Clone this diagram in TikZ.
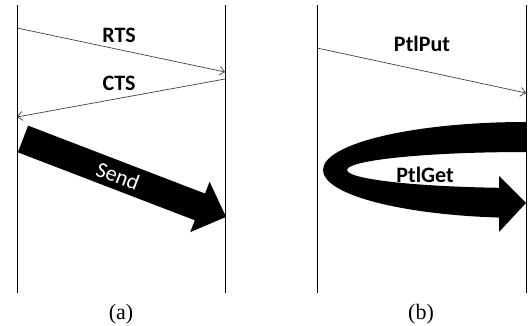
\documentclass[tikz,border=0pt]{standalone}
\usepackage{fontspec}
\setmainfont{Liberation Serif}
\newfontfamily\labelfont{Carlito}
\usetikzlibrary{arrows.meta}

\begin{document}
\begin{tikzpicture}[x=1pt,y=-1pt,
  timeline/.style={line width=0.9pt, draw=black},
  msg/.style={line width=0.7pt, draw=black!75, -{Straight Barb[length=5pt,width=9pt]}},
  msglabel/.style={inner sep=0pt, font=\labelfont\bfseries\fontsize{22}{26}\selectfont},
  sendlabel/.style={inner sep=0pt, text=white, font=\labelfont\fontsize{22}{26}\selectfont},
  caption/.style={inner sep=0pt, font=\fontsize{22}{26}\selectfont},
  bulk/.style={fill=black, draw=none},
]
\useasboundingbox (0,0) rectangle (528,326);

% ---------- (a) rendezvous: RTS / CTS / Send ----------
\coordinate (aLtop) at (17,5);   \coordinate (aLbot) at (17,293);
\coordinate (aRtop) at (225,5);  \coordinate (aRbot) at (225,293);
\coordinate (rtsS) at (17,28);   \coordinate (rtsE) at (225,72);
\coordinate (ctsS) at (225,79);  \coordinate (ctsE) at (17,117);

\draw[msg] (rtsS) -- (rtsE);
\draw[msg] (ctsS) -- (ctsE);

% bulk data transfer as a block arrow
\begin{scope}[shift={(23,139)}, rotate=-21]
  \fill[bulk] (0,-14.3) -- (189.5,-14.3) -- (189.5,-27) -- (217.5,0)
    -- (189.5,27) -- (189.5,14.3) -- (0,14.3) -- cycle;
\end{scope}

\draw[timeline] (aLtop) -- (aLbot);
\draw[timeline] (aRtop) -- (aRbot);

\node[msglabel] (rts) at (119,35) {RTS};
\node[msglabel] (cts) at (119,83) {CTS};
\node[sendlabel, rotate=-21] (send) at (118,176) {Send};
\node[caption] (capa) at (121,314) {(a)};

% ---------- (b) one-sided: PtlPut / PtlGet ----------
\coordinate (bLtop) at (317,5);  \coordinate (bLbot) at (317,293);
\coordinate (bRtop) at (526,5);  \coordinate (bRbot) at (526,293);
\coordinate (putS) at (317,48);  \coordinate (putE) at (526,93);

\draw[msg] (putS) -- (putE);

% looping get arrow: band between two half ellipses, then the head
\fill[bulk] (526,122)
    arc[start angle=270, end angle=97.6, x radius=203, y radius=48]
    -- (499,232) -- (526,203) -- (499,176) -- (499,187.8)
    arc[start angle=98.7, end angle=270, x radius=179, y radius=18]
    -- cycle;

\draw[timeline] (bLtop) -- (bLbot);
\draw[timeline] (bRtop) -- (bRbot);

\node[msglabel] (put) at (422,44) {PtlPut};
\node[msglabel] (get) at (425,174.5) {PtlGet};
\node[caption] (capb) at (421,314) {(b)};
\end{tikzpicture}
\end{document}
